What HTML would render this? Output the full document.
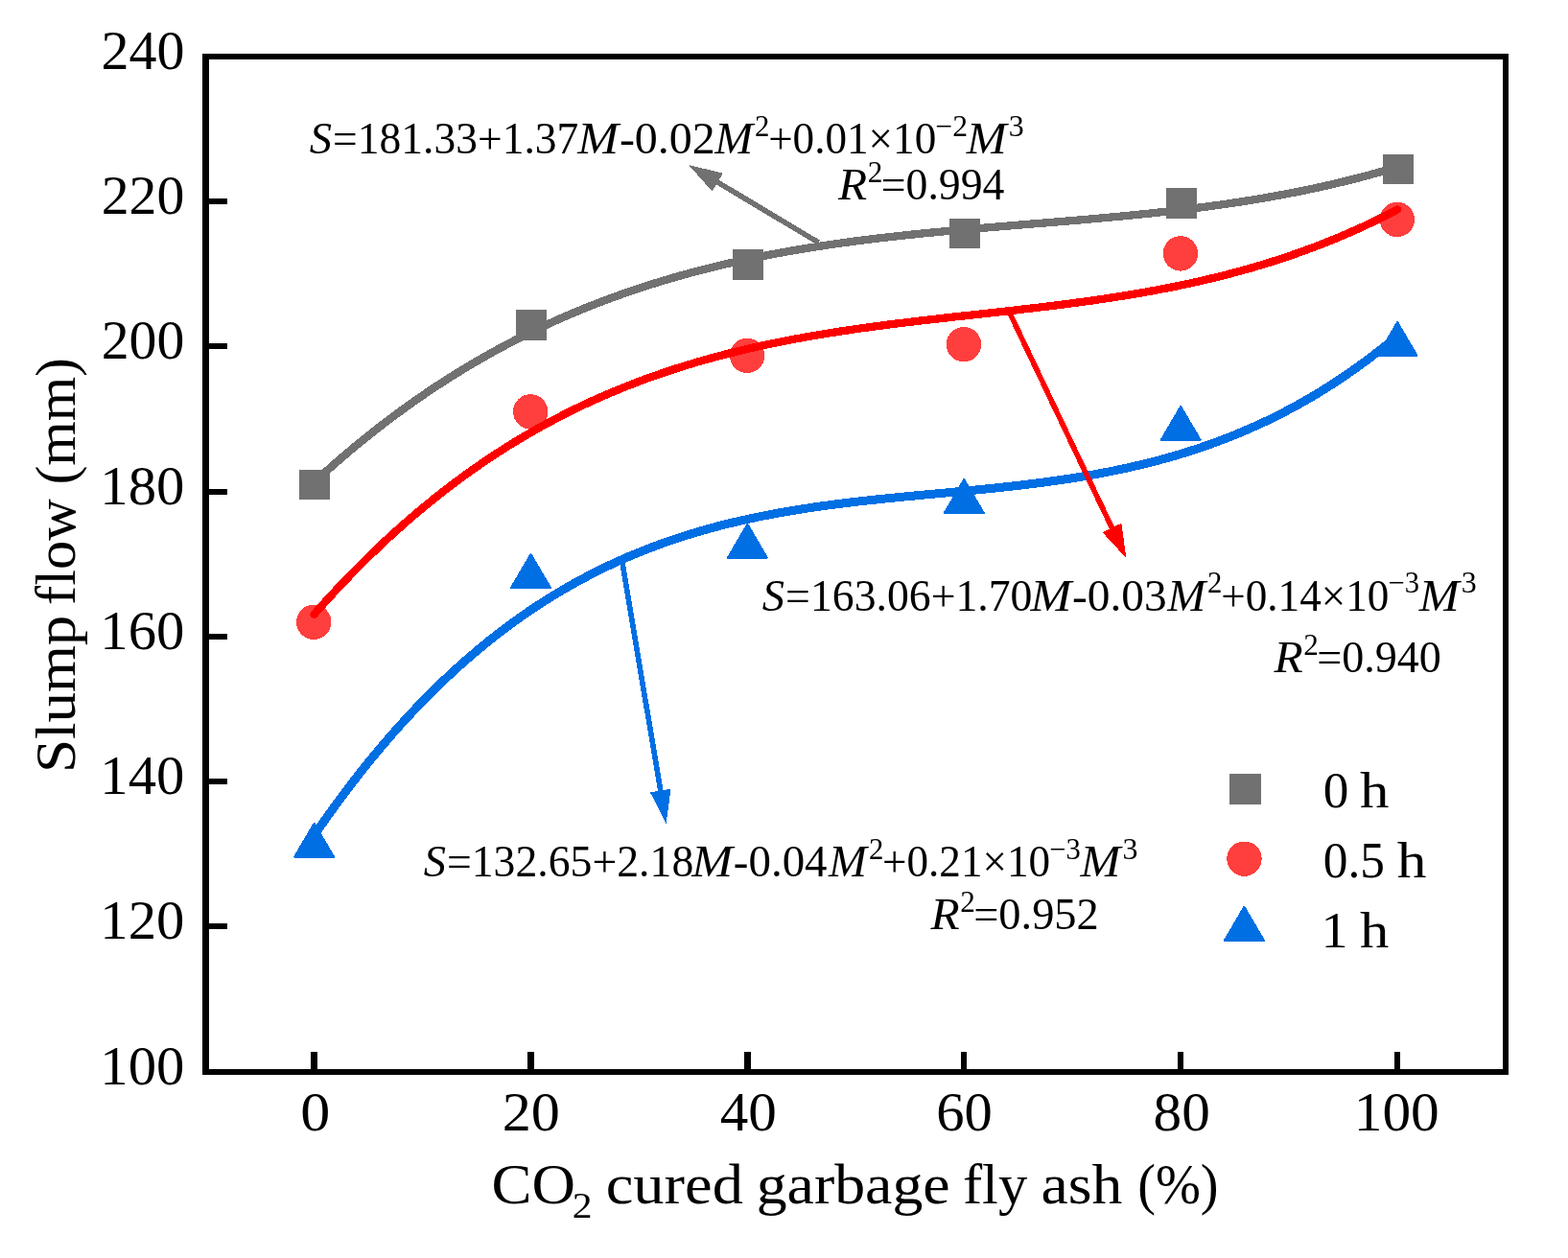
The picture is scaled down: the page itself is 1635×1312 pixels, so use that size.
<!DOCTYPE html>
<html><head><meta charset="utf-8"><title>Slump flow chart</title>
<style>
html,body{margin:0;padding:0;background:#fff;overflow:hidden;}
svg{display:block;} .ce{shape-rendering:crispEdges;}
text{font-family:"Liberation Serif","Times New Roman",serif;fill:#000;}
</style></head><body>
<svg width="1635" height="1312" viewBox="0 0 1635 1312">
<rect width="1635" height="1312" fill="#fff"/>
<g class="ce">
<rect x="211" y="56" width="7" height="1065" fill="#000"/>
<rect x="1567" y="56" width="6" height="1065" fill="#000"/>
<rect x="211" y="56" width="1362" height="6" fill="#000"/>
<rect x="211" y="1115" width="1362" height="6" fill="#000"/>
<rect x="324.25" y="1097" width="6.5" height="18" fill="#000"/>
<rect x="550.15" y="1097" width="6.5" height="18" fill="#000"/>
<rect x="776.05" y="1097" width="6.5" height="18" fill="#000"/>
<rect x="1001.95" y="1097" width="6.5" height="18" fill="#000"/>
<rect x="1227.85" y="1097" width="6.5" height="18" fill="#000"/>
<rect x="1453.75" y="1097" width="6.5" height="18" fill="#000"/>
<rect x="218" y="963.4" width="19" height="6" fill="#000"/>
<rect x="218" y="812.1" width="19" height="6" fill="#000"/>
<rect x="218" y="660.9" width="19" height="6" fill="#000"/>
<rect x="218" y="509.6" width="19" height="6" fill="#000"/>
<rect x="218" y="358.3" width="19" height="6" fill="#000"/>
<rect x="218" y="207.0" width="19" height="6" fill="#000"/>
<rect x="311.9" y="489.8" width="32.5" height="31.5" fill="#717171"/>
<rect x="537.9" y="323.1" width="32.5" height="31.5" fill="#717171"/>
<rect x="763.8" y="260.2" width="32.5" height="31.5" fill="#717171"/>
<rect x="989.7" y="227.9" width="32.5" height="31.5" fill="#717171"/>
<rect x="1215.5" y="196.2" width="32.5" height="31.5" fill="#717171"/>
<rect x="1441.5" y="160.8" width="32.5" height="31.5" fill="#717171"/>
<polyline points="327.50,502.97 333.18,497.78 338.85,492.66 344.53,487.61 350.20,482.64 355.88,477.73 361.56,472.90 367.23,468.13 372.91,463.43 378.58,458.80 384.26,454.24 389.93,449.75 395.61,445.32 401.29,440.96 406.96,436.66 412.64,432.43 418.31,428.26 423.99,424.16 429.67,420.12 435.34,416.14 441.02,412.22 446.69,408.37 452.37,404.57 458.05,400.84 463.72,397.17 469.40,393.55 475.07,390.00 480.75,386.50 486.42,383.06 492.10,379.68 497.78,376.35 503.45,373.08 509.13,369.86 514.80,366.70 520.48,363.60 526.16,360.55 531.83,357.55 537.51,354.60 543.18,351.71 548.86,348.87 554.54,346.08 560.21,343.34 565.89,340.64 571.56,338.00 577.24,335.41 582.91,332.87 588.59,330.37 594.27,327.92 599.94,325.52 605.62,323.16 611.29,320.85 616.97,318.58 622.65,316.36 628.32,314.18 634.00,312.05 639.67,309.95 645.35,307.90 651.03,305.90 656.70,303.93 662.38,302.00 668.05,300.11 673.73,298.27 679.40,296.46 685.08,294.69 690.76,292.96 696.43,291.26 702.11,289.60 707.78,287.98 713.46,286.39 719.14,284.84 724.81,283.32 730.49,281.84 736.16,280.39 741.84,278.97 747.52,277.59 753.19,276.23 758.87,274.91 764.54,273.62 770.22,272.35 775.89,271.12 781.57,269.92 787.25,268.74 792.92,267.60 798.60,266.48 804.27,265.38 809.95,264.32 815.63,263.27 821.30,262.26 826.98,261.26 832.65,260.30 838.33,259.35 844.01,258.43 849.68,257.53 855.36,256.65 861.03,255.80 866.71,254.96 872.38,254.14 878.06,253.35 883.74,252.57 889.41,251.81 895.09,251.07 900.76,250.35 906.44,249.64 912.12,248.95 917.79,248.27 923.47,247.61 929.14,246.97 934.82,246.33 940.49,245.72 946.17,245.11 951.85,244.52 957.52,243.94 963.20,243.37 968.87,242.81 974.55,242.26 980.23,241.72 985.90,241.19 991.58,240.67 997.25,240.15 1002.93,239.65 1008.61,239.15 1014.28,238.65 1019.96,238.17 1025.63,237.68 1031.31,237.20 1036.98,236.73 1042.66,236.26 1048.34,235.79 1054.01,235.33 1059.69,234.86 1065.36,234.40 1071.04,233.94 1076.72,233.48 1082.39,233.02 1088.07,232.56 1093.74,232.09 1099.42,231.63 1105.10,231.16 1110.77,230.69 1116.45,230.21 1122.12,229.73 1127.80,229.25 1133.47,228.76 1139.15,228.26 1144.83,227.76 1150.50,227.25 1156.18,226.74 1161.85,226.21 1167.53,225.68 1173.21,225.14 1178.88,224.59 1184.56,224.02 1190.23,223.45 1195.91,222.87 1201.59,222.27 1207.26,221.66 1212.94,221.04 1218.61,220.40 1224.29,219.75 1229.96,219.09 1235.64,218.41 1241.32,217.71 1246.99,217.00 1252.67,216.27 1258.34,215.53 1264.02,214.76 1269.70,213.98 1275.37,213.18 1281.05,212.36 1286.72,211.51 1292.40,210.65 1298.08,209.77 1303.75,208.86 1309.43,207.93 1315.10,206.98 1320.78,206.01 1326.45,205.01 1332.13,203.98 1337.81,202.93 1343.48,201.86 1349.16,200.76 1354.83,199.63 1360.51,198.48 1366.19,197.29 1371.86,196.08 1377.54,194.84 1383.21,193.57 1388.89,192.27 1394.57,190.94 1400.24,189.57 1405.92,188.18 1411.59,186.75 1417.27,185.29 1422.94,183.80 1428.62,182.27 1434.30,180.71 1439.97,179.11 1445.65,177.48 1451.32,175.81 1457.00,174.10" fill="none" stroke="#717171" stroke-width="8.3" stroke-linejoin="round" stroke-linecap="round"/>
<circle cx="327.3" cy="648.8" r="18.2" fill="#FF3E3E"/>
<circle cx="553.2" cy="429.4" r="18.2" fill="#FF3E3E"/>
<circle cx="779.1" cy="370.8" r="18.2" fill="#FF3E3E"/>
<circle cx="1005.0" cy="359.1" r="18.2" fill="#FF3E3E"/>
<circle cx="1230.9" cy="264.4" r="18.2" fill="#FF3E3E"/>
<circle cx="1456.8" cy="228.9" r="18.2" fill="#FF3E3E"/>
<polyline points="327.50,640.80 333.18,634.37 338.85,628.05 344.53,621.81 350.20,615.67 355.88,609.63 361.56,603.67 367.23,597.81 372.91,592.04 378.58,586.36 384.26,580.76 389.93,575.26 395.61,569.84 401.29,564.51 406.96,559.27 412.64,554.11 418.31,549.03 423.99,544.04 429.67,539.13 435.34,534.31 441.02,529.56 446.69,524.90 452.37,520.31 458.05,515.80 463.72,511.37 469.40,507.02 475.07,502.75 480.75,498.55 486.42,494.42 492.10,490.37 497.78,486.39 503.45,482.49 509.13,478.65 514.80,474.89 520.48,471.20 526.16,467.58 531.83,464.02 537.51,460.53 543.18,457.11 548.86,453.76 554.54,450.47 560.21,447.25 565.89,444.09 571.56,440.99 577.24,437.95 582.91,434.98 588.59,432.07 594.27,429.21 599.94,426.42 605.62,423.68 611.29,421.00 616.97,418.38 622.65,415.81 628.32,413.30 634.00,410.85 639.67,408.44 645.35,406.09 651.03,403.79 656.70,401.54 662.38,399.35 668.05,397.20 673.73,395.10 679.40,393.05 685.08,391.04 690.76,389.08 696.43,387.17 702.11,385.30 707.78,383.48 713.46,381.70 719.14,379.96 724.81,378.27 730.49,376.61 736.16,374.99 741.84,373.42 747.52,371.88 753.19,370.38 758.87,368.92 764.54,367.49 770.22,366.10 775.89,364.74 781.57,363.41 787.25,362.12 792.92,360.86 798.60,359.64 804.27,358.44 809.95,357.27 815.63,356.13 821.30,355.02 826.98,353.94 832.65,352.88 838.33,351.85 844.01,350.85 849.68,349.87 855.36,348.91 861.03,347.97 866.71,347.06 872.38,346.17 878.06,345.29 883.74,344.44 889.41,343.61 895.09,342.79 900.76,341.99 906.44,341.21 912.12,340.44 917.79,339.69 923.47,338.95 929.14,338.22 934.82,337.51 940.49,336.81 946.17,336.12 951.85,335.44 957.52,334.76 963.20,334.10 968.87,333.45 974.55,332.80 980.23,332.15 985.90,331.52 991.58,330.88 997.25,330.25 1002.93,329.62 1008.61,329.00 1014.28,328.38 1019.96,327.75 1025.63,327.13 1031.31,326.50 1036.98,325.88 1042.66,325.25 1048.34,324.62 1054.01,323.98 1059.69,323.34 1065.36,322.69 1071.04,322.03 1076.72,321.37 1082.39,320.70 1088.07,320.02 1093.74,319.33 1099.42,318.63 1105.10,317.92 1110.77,317.20 1116.45,316.46 1122.12,315.71 1127.80,314.95 1133.47,314.17 1139.15,313.37 1144.83,312.56 1150.50,311.73 1156.18,310.88 1161.85,310.01 1167.53,309.12 1173.21,308.21 1178.88,307.28 1184.56,306.33 1190.23,305.35 1195.91,304.35 1201.59,303.32 1207.26,302.27 1212.94,301.19 1218.61,300.09 1224.29,298.95 1229.96,297.79 1235.64,296.60 1241.32,295.38 1246.99,294.12 1252.67,292.84 1258.34,291.52 1264.02,290.17 1269.70,288.78 1275.37,287.36 1281.05,285.91 1286.72,284.41 1292.40,282.88 1298.08,281.31 1303.75,279.70 1309.43,278.06 1315.10,276.37 1320.78,274.64 1326.45,272.86 1332.13,271.05 1337.81,269.19 1343.48,267.28 1349.16,265.33 1354.83,263.34 1360.51,261.30 1366.19,259.20 1371.86,257.07 1377.54,254.88 1383.21,252.64 1388.89,250.35 1394.57,248.01 1400.24,245.61 1405.92,243.17 1411.59,240.66 1417.27,238.11 1422.94,235.50 1428.62,232.83 1434.30,230.10 1439.97,227.32 1445.65,224.48 1451.32,221.57 1457.00,218.61" fill="none" stroke="#FF0000" stroke-width="8.3" stroke-linejoin="round" stroke-linecap="round"/>
<polygon points="327.6,858.7 307.1,893.7 348.1,893.7" fill="#006FE3" stroke="#006FE3" stroke-width="2" stroke-linejoin="round"/>
<polygon points="553.5,578.0 533.0,613.0 574.0,613.0" fill="#006FE3" stroke="#006FE3" stroke-width="2" stroke-linejoin="round"/>
<polygon points="779.4,546.7 758.9,581.7 799.9,581.7" fill="#006FE3" stroke="#006FE3" stroke-width="2" stroke-linejoin="round"/>
<polygon points="1005.3,500.0 984.8,535.0 1025.8,535.0" fill="#006FE3" stroke="#006FE3" stroke-width="2" stroke-linejoin="round"/>
<polygon points="1231.2,423.9 1210.7,458.9 1251.7,458.9" fill="#006FE3" stroke="#006FE3" stroke-width="2" stroke-linejoin="round"/>
<polygon points="1457.1,336.0 1436.6,371.0 1477.6,371.0" fill="#006FE3" stroke="#006FE3" stroke-width="2" stroke-linejoin="round"/>
<polyline points="327.50,871.41 333.18,863.18 338.85,855.08 344.53,847.12 350.20,839.29 355.88,831.59 361.56,824.02 367.23,816.58 372.91,809.27 378.58,802.08 384.26,795.02 389.93,788.08 395.61,781.27 401.29,774.58 406.96,768.01 412.64,761.55 418.31,755.22 423.99,749.00 429.67,742.90 435.34,736.91 441.02,731.03 446.69,725.27 452.37,719.62 458.05,714.08 463.72,708.64 469.40,703.32 475.07,698.10 480.75,692.98 486.42,687.97 492.10,683.07 497.78,678.26 503.45,673.55 509.13,668.94 514.80,664.44 520.48,660.02 526.16,655.70 531.83,651.48 537.51,647.35 543.18,643.31 548.86,639.37 554.54,635.51 560.21,631.74 565.89,628.06 571.56,624.46 577.24,620.95 582.91,617.52 588.59,614.18 594.27,610.91 599.94,607.73 605.62,604.62 611.29,601.60 616.97,598.64 622.65,595.77 628.32,592.97 634.00,590.24 639.67,587.58 645.35,585.00 651.03,582.48 656.70,580.03 662.38,577.65 668.05,575.33 673.73,573.08 679.40,570.89 685.08,568.77 690.76,566.70 696.43,564.70 702.11,562.75 707.78,560.86 713.46,559.03 719.14,557.25 724.81,555.53 730.49,553.86 736.16,552.24 741.84,550.67 747.52,549.15 753.19,547.68 758.87,546.26 764.54,544.88 770.22,543.54 775.89,542.25 781.57,541.00 787.25,539.79 792.92,538.62 798.60,537.49 804.27,536.40 809.95,535.34 815.63,534.32 821.30,533.33 826.98,532.38 832.65,531.45 838.33,530.56 844.01,529.69 849.68,528.86 855.36,528.05 861.03,527.26 866.71,526.50 872.38,525.76 878.06,525.04 883.74,524.35 889.41,523.67 895.09,523.01 900.76,522.37 906.44,521.75 912.12,521.14 917.79,520.54 923.47,519.96 929.14,519.39 934.82,518.82 940.49,518.27 946.17,517.72 951.85,517.18 957.52,516.65 963.20,516.11 968.87,515.59 974.55,515.06 980.23,514.53 985.90,514.01 991.58,513.48 997.25,512.95 1002.93,512.41 1008.61,511.87 1014.28,511.32 1019.96,510.76 1025.63,510.20 1031.31,509.62 1036.98,509.04 1042.66,508.44 1048.34,507.82 1054.01,507.20 1059.69,506.55 1065.36,505.89 1071.04,505.21 1076.72,504.51 1082.39,503.79 1088.07,503.05 1093.74,502.28 1099.42,501.49 1105.10,500.67 1110.77,499.83 1116.45,498.96 1122.12,498.06 1127.80,497.13 1133.47,496.16 1139.15,495.17 1144.83,494.14 1150.50,493.08 1156.18,491.98 1161.85,490.84 1167.53,489.66 1173.21,488.44 1178.88,487.19 1184.56,485.88 1190.23,484.54 1195.91,483.15 1201.59,481.72 1207.26,480.24 1212.94,478.71 1218.61,477.13 1224.29,475.50 1229.96,473.82 1235.64,472.08 1241.32,470.29 1246.99,468.45 1252.67,466.55 1258.34,464.59 1264.02,462.57 1269.70,460.50 1275.37,458.36 1281.05,456.16 1286.72,453.89 1292.40,451.56 1298.08,449.17 1303.75,446.70 1309.43,444.17 1315.10,441.57 1320.78,438.90 1326.45,436.16 1332.13,433.34 1337.81,430.45 1343.48,427.48 1349.16,424.44 1354.83,421.32 1360.51,418.12 1366.19,414.84 1371.86,411.47 1377.54,408.03 1383.21,404.50 1388.89,400.89 1394.57,397.19 1400.24,393.40 1405.92,389.52 1411.59,385.56 1417.27,381.50 1422.94,377.35 1428.62,373.11 1434.30,368.77 1439.97,364.34 1445.65,359.81 1451.32,355.18 1457.00,350.45" fill="none" stroke="#006FE3" stroke-width="9" stroke-linejoin="round" stroke-linecap="round"/>
<line x1="853.6" y1="253.0" x2="746.5" y2="189.0" stroke="#717171" stroke-width="5.6"/><polygon points="718.2,172.1 753.9,180.6 742.6,199.5" fill="#717171"/>
<line x1="648.8" y1="586.0" x2="689.1" y2="826.5" stroke="#006FE3" stroke-width="5.6"/><polygon points="694.5,859.0 677.9,826.3 699.6,822.7" fill="#006FE3"/>
<line x1="1053.2" y1="327.1" x2="1160.2" y2="552.2" stroke="#FF0000" stroke-width="5.6"/><polygon points="1174.4,582.0 1149.4,555.1 1169.3,545.7" fill="#FF0000"/>
<rect x="1282.0" y="807.2" width="33" height="31.5" fill="#717171"/>
<circle cx="1297.5" cy="895.7" r="18.2" fill="#FF3E3E"/>
<polygon points="1297.4,945.8 1276.9,980.8 1317.9,980.8" fill="#006FE3" stroke="#006FE3" stroke-width="2" stroke-linejoin="round"/>
</g>
<text x="104.38" y="1130.70" font-size="56.2" textLength="88.00" lengthAdjust="spacingAndGlyphs" >100</text>
<text x="104.38" y="979.42" font-size="56.2" textLength="88.00" lengthAdjust="spacingAndGlyphs" >120</text>
<text x="104.38" y="828.14" font-size="56.2" textLength="88.00" lengthAdjust="spacingAndGlyphs" >140</text>
<text x="104.38" y="676.86" font-size="56.2" textLength="88.00" lengthAdjust="spacingAndGlyphs" >160</text>
<text x="104.38" y="525.58" font-size="56.2" textLength="88.00" lengthAdjust="spacingAndGlyphs" >180</text>
<text x="105.74" y="374.30" font-size="56.2" textLength="86.60" lengthAdjust="spacingAndGlyphs" >200</text>
<text x="105.74" y="223.02" font-size="56.2" textLength="86.60" lengthAdjust="spacingAndGlyphs" >220</text>
<text x="105.44" y="71.74" font-size="56.2" textLength="86.92" lengthAdjust="spacingAndGlyphs" >240</text>
<text x="313.19" y="1179.00" font-size="56.2" textLength="31.02" lengthAdjust="spacingAndGlyphs" >0</text>
<text x="523.76" y="1179.00" font-size="56.2" textLength="60.19" lengthAdjust="spacingAndGlyphs" >20</text>
<text x="750.65" y="1179.00" font-size="56.2" textLength="59.16" lengthAdjust="spacingAndGlyphs" >40</text>
<text x="976.32" y="1179.00" font-size="56.2" textLength="58.56" lengthAdjust="spacingAndGlyphs" >60</text>
<text x="1202.59" y="1179.00" font-size="56.2" textLength="59.21" lengthAdjust="spacingAndGlyphs" >80</text>
<text x="1411.72" y="1179.00" font-size="56.2" textLength="88.99" lengthAdjust="spacingAndGlyphs" >100</text>
<text x="512.56" y="1255.00" font-size="59" textLength="87.50" lengthAdjust="spacingAndGlyphs" >CO</text>
<text x="596.84" y="1269.70" font-size="38.5" textLength="20.79" lengthAdjust="spacingAndGlyphs" >2</text>
<text x="631.71" y="1255.00" font-size="59" textLength="143.21" lengthAdjust="spacingAndGlyphs" >cured</text>
<text x="788.65" y="1255.00" font-size="59" textLength="202.01" lengthAdjust="spacingAndGlyphs" >garbage</text>
<text x="1003.95" y="1255.00" font-size="59" textLength="67.32" lengthAdjust="spacingAndGlyphs" >fly</text>
<text x="1085.54" y="1255.00" font-size="59" textLength="84.87" lengthAdjust="spacingAndGlyphs" >ash</text>
<text x="1186.13" y="1255.00" font-size="59" textLength="84.51" lengthAdjust="spacingAndGlyphs" >(%)</text>
<text x="-806.10" y="78.30" font-size="60" transform="rotate(-90)" textLength="164.45" lengthAdjust="spacingAndGlyphs" >Slump</text>
<text x="-630.91" y="78.30" font-size="60" transform="rotate(-90)" textLength="110.70" lengthAdjust="spacingAndGlyphs" >flow</text>
<text x="-505.58" y="78.30" font-size="60" transform="rotate(-90)" textLength="132.58" lengthAdjust="spacingAndGlyphs" >(mm)</text>
<text x="322.79" y="160.40" font-size="46" textLength="23.22" lengthAdjust="spacingAndGlyphs" font-style="italic">S</text>
<text x="347.02" y="160.40" font-size="46" textLength="256.36" lengthAdjust="spacingAndGlyphs" >=181.33+1.37</text>
<text x="602.30" y="160.40" font-size="46" textLength="42.83" lengthAdjust="spacingAndGlyphs" font-style="italic">M</text>
<text x="645.92" y="160.40" font-size="46" textLength="99.83" lengthAdjust="spacingAndGlyphs" >-0.02</text>
<text x="745.20" y="160.40" font-size="46" textLength="39.86" lengthAdjust="spacingAndGlyphs" font-style="italic">M</text>
<text x="787.01" y="142.00" font-size="31" textLength="15.38" lengthAdjust="spacingAndGlyphs" >2</text>
<text x="801.14" y="160.40" font-size="46" textLength="175.13" lengthAdjust="spacingAndGlyphs" >+0.01×10</text>
<text x="975.36" y="142.00" font-size="31" textLength="33.67" lengthAdjust="spacingAndGlyphs" >−2</text>
<text x="1007.70" y="160.40" font-size="46" textLength="41.87" lengthAdjust="spacingAndGlyphs" font-style="italic">M</text>
<text x="1051.67" y="142.00" font-size="31" textLength="15.98" lengthAdjust="spacingAndGlyphs" >3</text>
<text x="874.10" y="208.00" font-size="46" textLength="30.19" lengthAdjust="spacingAndGlyphs" font-style="italic">R</text>
<text x="904.89" y="190.00" font-size="31" textLength="15.62" lengthAdjust="spacingAndGlyphs" >2</text>
<text x="918.81" y="208.00" font-size="46" textLength="128.54" lengthAdjust="spacingAndGlyphs" >=0.994</text>
<text x="794.89" y="636.50" font-size="46" textLength="23.22" lengthAdjust="spacingAndGlyphs" font-style="italic">S</text>
<text x="819.11" y="636.50" font-size="46" textLength="257.37" lengthAdjust="spacingAndGlyphs" >=163.06+1.70</text>
<text x="1074.40" y="636.50" font-size="46" textLength="42.83" lengthAdjust="spacingAndGlyphs" font-style="italic">M</text>
<text x="1118.04" y="636.50" font-size="46" textLength="98.74" lengthAdjust="spacingAndGlyphs" >-0.03</text>
<text x="1217.30" y="636.50" font-size="46" textLength="39.86" lengthAdjust="spacingAndGlyphs" font-style="italic">M</text>
<text x="1259.11" y="618.10" font-size="31" textLength="15.38" lengthAdjust="spacingAndGlyphs" >2</text>
<text x="1273.24" y="636.50" font-size="46" textLength="175.13" lengthAdjust="spacingAndGlyphs" >+0.14×10</text>
<text x="1447.53" y="618.10" font-size="31" textLength="32.54" lengthAdjust="spacingAndGlyphs" >−3</text>
<text x="1479.80" y="636.50" font-size="46" textLength="41.87" lengthAdjust="spacingAndGlyphs" font-style="italic">M</text>
<text x="1523.77" y="618.10" font-size="31" textLength="15.98" lengthAdjust="spacingAndGlyphs" >3</text>
<text x="1328.60" y="701.30" font-size="46" textLength="30.19" lengthAdjust="spacingAndGlyphs" font-style="italic">R</text>
<text x="1359.39" y="683.30" font-size="31" textLength="15.62" lengthAdjust="spacingAndGlyphs" >2</text>
<text x="1373.30" y="701.30" font-size="46" textLength="129.56" lengthAdjust="spacingAndGlyphs" >=0.940</text>
<text x="441.69" y="914.20" font-size="46" textLength="23.22" lengthAdjust="spacingAndGlyphs" font-style="italic">S</text>
<text x="465.91" y="914.20" font-size="46" textLength="257.37" lengthAdjust="spacingAndGlyphs" >=132.65+2.18</text>
<text x="721.20" y="914.20" font-size="46" textLength="42.83" lengthAdjust="spacingAndGlyphs" font-style="italic">M</text>
<text x="764.86" y="914.20" font-size="46" textLength="97.68" lengthAdjust="spacingAndGlyphs" >-0.04</text>
<text x="864.10" y="914.20" font-size="46" textLength="39.86" lengthAdjust="spacingAndGlyphs" font-style="italic">M</text>
<text x="905.91" y="895.80" font-size="31" textLength="15.38" lengthAdjust="spacingAndGlyphs" >2</text>
<text x="920.04" y="914.20" font-size="46" textLength="175.13" lengthAdjust="spacingAndGlyphs" >+0.21×10</text>
<text x="1094.33" y="895.80" font-size="31" textLength="32.54" lengthAdjust="spacingAndGlyphs" >−3</text>
<text x="1126.60" y="914.20" font-size="46" textLength="41.87" lengthAdjust="spacingAndGlyphs" font-style="italic">M</text>
<text x="1170.57" y="895.80" font-size="31" textLength="15.98" lengthAdjust="spacingAndGlyphs" >3</text>
<text x="970.50" y="969.10" font-size="46" textLength="30.19" lengthAdjust="spacingAndGlyphs" font-style="italic">R</text>
<text x="1001.29" y="951.10" font-size="31" textLength="15.62" lengthAdjust="spacingAndGlyphs" >2</text>
<text x="1015.18" y="969.10" font-size="46" textLength="130.59" lengthAdjust="spacingAndGlyphs" >=0.952</text>
<text x="1379.77" y="842.20" font-size="52.5" textLength="26.61" lengthAdjust="spacingAndGlyphs" >0</text>
<text x="1417.90" y="842.20" font-size="52.5" textLength="30.39" lengthAdjust="spacingAndGlyphs" >h</text>
<text x="1379.75" y="915.30" font-size="52.5" textLength="64.14" lengthAdjust="spacingAndGlyphs" >0.5</text>
<text x="1456.70" y="915.30" font-size="52.5" textLength="30.69" lengthAdjust="spacingAndGlyphs" >h</text>
<text x="1377.54" y="988.30" font-size="52.5" textLength="28.15" lengthAdjust="spacingAndGlyphs" >1</text>
<text x="1418.10" y="988.30" font-size="52.5" textLength="30.29" lengthAdjust="spacingAndGlyphs" >h</text>
</svg>
</body></html>
